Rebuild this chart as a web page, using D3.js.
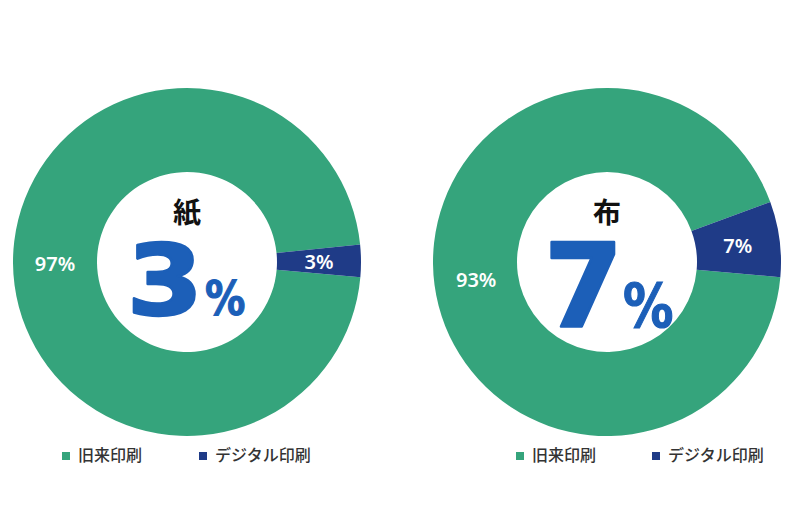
<!DOCTYPE html>
<html>
<head>
<meta charset="utf-8">
<script src="https://cdn.jsdelivr.net/npm/d3@7"></script>
<style>
  html, body { margin: 0; padding: 0; background: #fff; }
  svg { display: block; }
</style>
</head>
<body>
<svg id="chart" width="794" height="530"></svg>
<script>
// data
const categories = ["旧来印刷", "デジタル印刷"];
const materials = ["紙", "布"];
const paperValues = [97, 3];
const clothValues = [93, 7];
const colors = ["#35a47c", "#1f3b87"];

const width = 794, height = 530;
const svg = d3.select("#chart");

const outerR = 174, innerR = 90;
const pie = d3.pie().sort(null).startAngle(95 * Math.PI / 180).endAngle(455 * Math.PI / 180);
const arc = d3.arc().innerRadius(innerR).outerRadius(outerR);
const labelArc = d3.arc().innerRadius(132).outerRadius(132);

const charts = [
  { title: materials[0], values: paperValues, cx: 187, cy: 262, legendX: [66, 203],
    digitSize: 98, digitScale: 1.12, digitX: 16, pctSize: 48, pctX: 18, base: 53 },
  { title: materials[1], values: clothValues, cx: 607, cy: 262, legendX: [520, 656],
    digitSize: 116, digitScale: 0.98, digitX: 16, pctSize: 60, pctX: 16, base: 65 }
];

const blue = "#1c5fb8";

charts.forEach(c => {
  const g = svg.append("g").attr("transform", `translate(${c.cx},${c.cy})`);
  const arcs = pie(c.values);

  // slices
  g.selectAll("path")
    .data(arcs)
    .enter().append("path")
    .attr("d", arc)
    .attr("fill", (d, i) => colors[i]);

  // slice labels
  g.selectAll("text.slice")
    .data(arcs)
    .enter().append("text")
    .attr("class", "slice")
    .attr("transform", d => `translate(${labelArc.centroid(d)})`)
    .attr("text-anchor", "middle")
    .attr("dy", "0.4em")
    .style("fill", "#fff")
    .style("font-family", "'Noto Sans', 'Noto Sans CJK JP', sans-serif")
    .style("font-weight", 600)
    .style("font-size", "20px")
    .text(d => d.data + "%");

  // centre title
  g.append("text")
    .attr("x", 0)
    .attr("y", -39)
    .attr("text-anchor", "middle")
    .style("fill", "#111")
    .style("font-family", "'Noto Sans CJK JP', sans-serif")
    .style("font-weight", 700)
    .style("font-size", "28px")
    .text(c.title);

  // big number
  g.append("text")
    .attr("transform", `translate(${c.digitX},${c.base}) scale(${c.digitScale},1)`)
    .attr("text-anchor", "end")
    .style("fill", blue)
    .style("stroke", blue)
    .style("stroke-width", 2.5)
    .style("stroke-linejoin", "round")
    .style("font-family", "'DejaVu Sans', sans-serif")
    .style("font-weight", 700)
    .style("font-size", c.digitSize + "px")
    .text(c.values[1]);

  g.append("text")
    .attr("transform", `translate(${c.pctX},${c.base}) scale(0.84,1)`)
    .attr("text-anchor", "start")
    .style("fill", blue)
    .style("stroke", blue)
    .style("stroke-width", 1.2)
    .style("font-family", "'DejaVu Sans', sans-serif")
    .style("font-weight", 700)
    .style("font-size", c.pctSize + "px")
    .text("%");

  // legend
  categories.forEach((cat, i) => {
    const lx = c.legendX[i];
    svg.append("rect")
      .attr("x", lx - 4)
      .attr("y", 452)
      .attr("width", 8)
      .attr("height", 8)
      .attr("fill", colors[i]);
    svg.append("text")
      .attr("x", lx + 12)
      .attr("y", 461)
      .style("fill", "#333")
      .style("font-family", "'Noto Sans CJK JP', sans-serif")
      .style("font-weight", 500)
      .style("font-size", "16px")
      .text(cat);
  });
});
</script>
</body>
</html>
